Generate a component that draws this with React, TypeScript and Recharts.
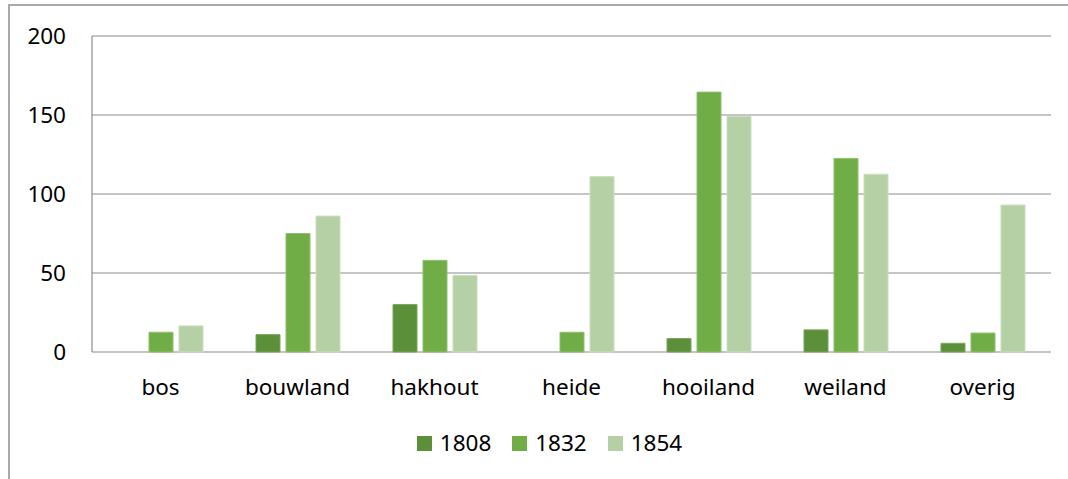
import { Bar, BarChart, CartesianGrid, XAxis, YAxis } from 'recharts';

const categories = ['bos', 'bouwland', 'hakhout', 'heide', 'hooiland', 'weiland', 'overig'];
const values1808 = [0, 11, 30, 0, 8.5, 14, 5.5];
const values1832 = [12.5, 75, 58, 12.5, 164.5, 122.5, 12];
const values1854 = [16.5, 86, 48.5, 111, 149, 112.5, 93];
const yTicks = [0, 50, 100, 150, 200];

const series = [
  { key: 'y1808', name: '1808', color: '#5b8f3a', edge: '#7aa65d' },
  { key: 'y1832', name: '1832', color: '#70ad47', edge: '#8fc06e' },
  { key: 'y1854', name: '1854', color: '#b5d0a5', edge: '#cadfbe' },
];

const data = categories.map((name, i) => ({
  name,
  y1808: values1808[i],
  y1832: values1832[i],
  y1854: values1854[i],
}));

const font = '"Noto Sans", sans-serif';
const tickStyle = { fontSize: 22.5, fill: '#000', fontFamily: font };

export default function App() {
  return (
    <div
      style={{
        position: 'absolute',
        left: 0,
        top: 0,
        width: 1068,
        height: 479,
        overflow: 'hidden',
        background: '#fff',
        fontFamily: font,
      }}
    >
      <div
        style={{
          position: 'absolute',
          left: 8,
          top: 4,
          width: 1200,
          height: 700,
          borderLeft: '2px solid #a9a9a9',
          borderTop: '2px solid #a9a9a9',
        }}
      />
      <div style={{ position: 'absolute', left: 0, top: 0 }}>
        <BarChart
          width={1068}
          height={479}
          data={data}
          margin={{ top: 36, right: 17, left: 12, bottom: 87 }}
          barSize={24}
          barGap={6}
        >
          <CartesianGrid vertical={false} stroke="#8c8c8c" strokeWidth={1.2} />
          <XAxis
            dataKey="name"
            height={40}
            axisLine={false}
            tickLine={false}
            tickMargin={21}
            tick={tickStyle}
            interval={0}
          />
          <YAxis
            width={80}
            domain={[0, 200]}
            ticks={yTicks}
            axisLine={{ stroke: '#8c8c8c', strokeWidth: 1.2 }}
            tickLine={false}
            tickMargin={20}
            tick={tickStyle}
          />
          {series.map((s) => (
            <Bar
              key={s.key}
              dataKey={s.key}
              name={s.name}
              fill={s.color}
              stroke={s.edge}
              strokeWidth={1}
              isAnimationActive={false}
            />
          ))}
        </BarChart>
      </div>
      <div
        style={{
          position: 'absolute',
          left: 0,
          width: 1099,
          top: 428,
          display: 'flex',
          justifyContent: 'center',
          gap: 21,
          fontSize: 22.5,
          lineHeight: '30px',
          color: '#000',
        }}
      >
        {series.map((s) => (
          <div key={s.key} style={{ display: 'flex', alignItems: 'center', gap: 8 }}>
            <span style={{ display: 'inline-block', width: 15, height: 15, background: s.color }} />
            <span>{s.name}</span>
          </div>
        ))}
      </div>
    </div>
  );
}
